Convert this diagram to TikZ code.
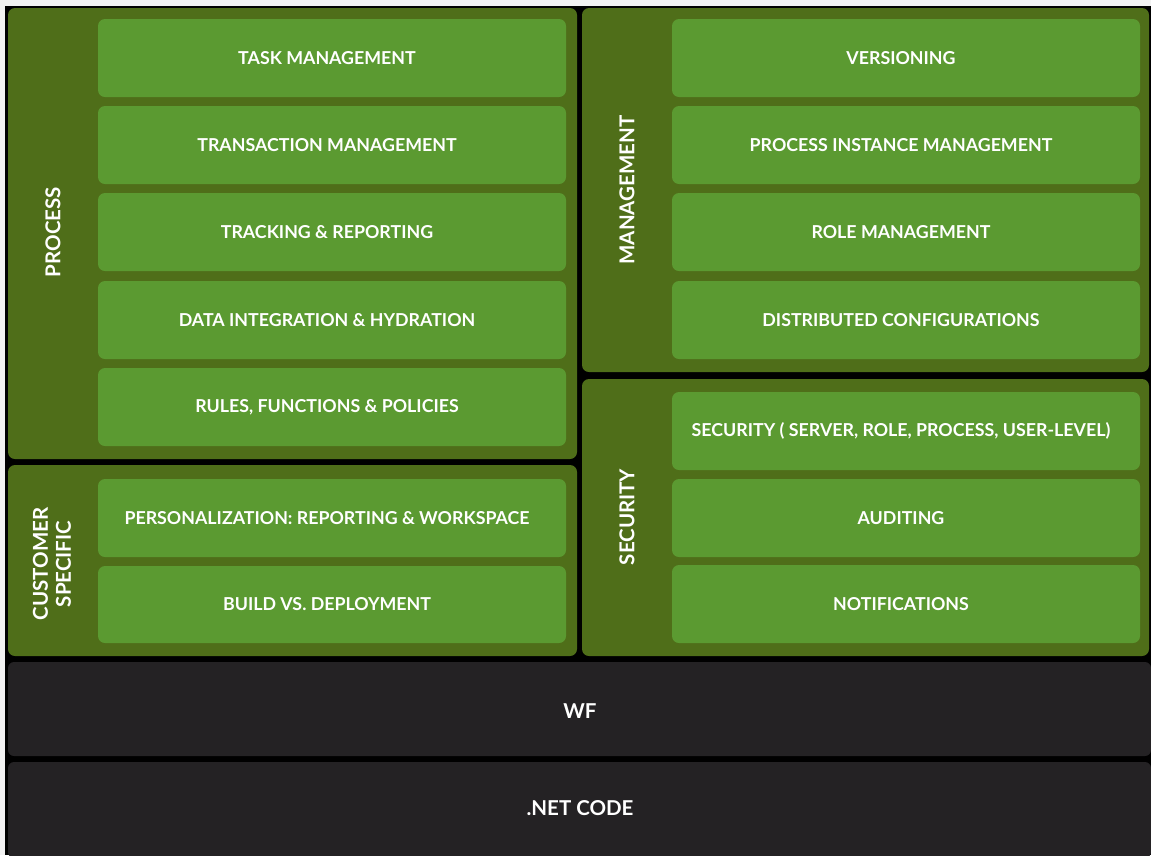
\documentclass[tikz,border=0pt]{standalone}
\usepackage{fontspec}
\setmainfont{Lato}
\definecolor{pagebg}{HTML}{F2F2F2}
\definecolor{panelgreen}{HTML}{4F6E19}
\definecolor{boxgreen}{HTML}{5B9A31}
\definecolor{basedark}{HTML}{242224}
\tikzset{
  panel/.style={fill=panelgreen, rounded corners=7pt},
  item/.style={fill=boxgreen, rounded corners=7pt},
  itemtext/.style={text=white, font=\bfseries\fontsize{17.8}{20}\selectfont},
  base/.style={fill=basedark, rounded corners=6pt},
  basetext/.style={text=white, font=\bfseries\fontsize{20.5}{23}\selectfont},
  sidelabel/.style={text=white, rotate=90, align=center, font=\bfseries\fontsize{20.5}{23}\selectfont},
}
\begin{document}
\begin{tikzpicture}[x=1pt,y=-1pt]
\useasboundingbox (0,0) rectangle (1151,855);
\fill[pagebg] (0,0) rectangle (1151,855);
\fill[black] (5,6) rectangle (1151,855);

% green panels
\path[panel] (8,8) rectangle (577,459);
\path[panel] (582,8) rectangle (1149,372);
\path[panel] (582,379) rectangle (1149,656);
\path[panel] (8,465) rectangle (577,656);

% side labels
\node[sidelabel] (lproc) at (53,232) {PROCESS};
\node[sidelabel] (lmgmt) at (627,190) {MANAGEMENT};
\node[sidelabel] (lsec) at (627,517) {SECURITY};
\node[sidelabel] (lcust) at (52,564) {CUSTOMER\\SPECIFIC};

% process and customer items
\foreach \nm/\ya/\yb/\txt in {
  task/19/97/TASK MANAGEMENT,
  trans/106/184/TRANSACTION MANAGEMENT,
  track/193/271/TRACKING \& REPORTING,
  data/281/359/DATA INTEGRATION \& HYDRATION,
  rules/368/446/{RULES, FUNCTIONS \& POLICIES},
  pers/479/557/PERSONALIZATION: REPORTING \& WORKSPACE,
  build/566/643/BUILD VS. DEPLOYMENT}
{
  \path[item] (98,\ya) rectangle (566,\yb);
  \node[itemtext] (\nm) at (327,{(\ya+\yb)/2}) {\txt};
}

% management and security items
\foreach \nm/\ya/\yb/\txt in {
  vers/19/97/VERSIONING,
  pim/106/184/PROCESS INSTANCE MANAGEMENT,
  role/193/271/ROLE MANAGEMENT,
  dist/281/359/DISTRIBUTED CONFIGURATIONS,
  secu/392/470/{SECURITY ( SERVER, ROLE, PROCESS, USER-LEVEL)},
  audit/479/557/AUDITING,
  notif/565/643/NOTIFICATIONS}
{
  \path[item] (672,\ya) rectangle (1140,\yb);
  \node[itemtext] (\nm) at (901,{(\ya+\yb)/2}) {\txt};
}

% platform layers
\path[base] (8,662) rectangle (1151,756);
\node[basetext] (wf) at (580,711) {WF};
\path[base] (8,762) rectangle (1151,858);
\node[basetext] (net) at (580,808) {.NET CODE};
\end{tikzpicture}
\end{document}
